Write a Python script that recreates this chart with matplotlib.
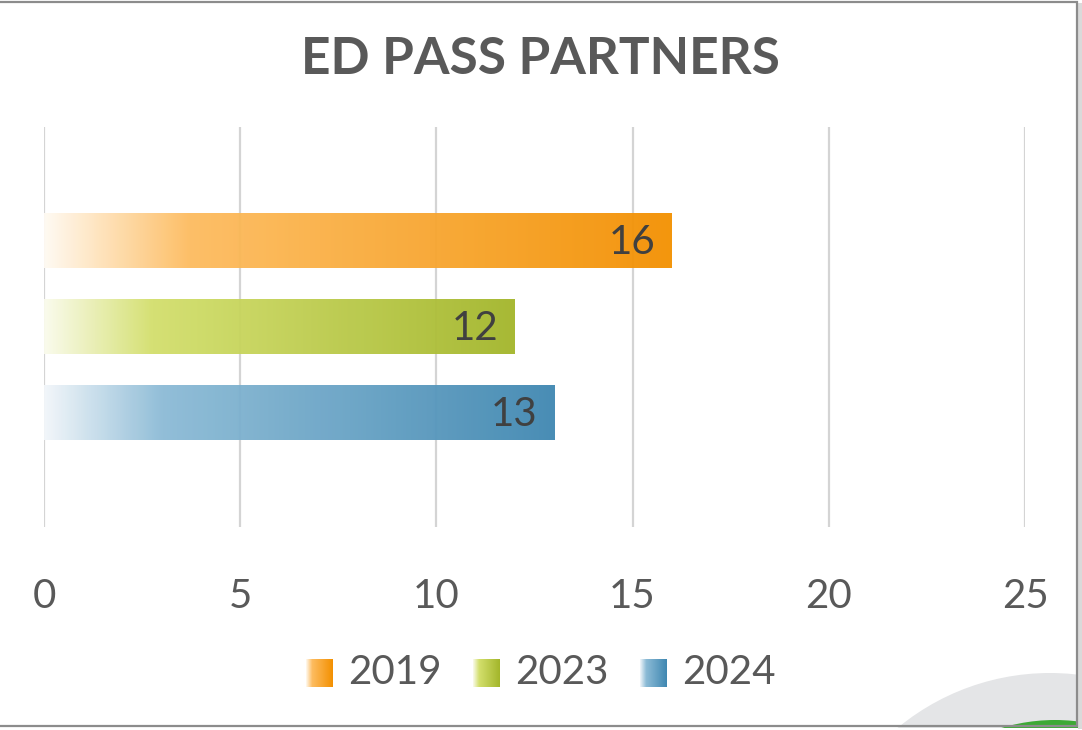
import matplotlib.pyplot as plt
import numpy as np
from matplotlib.colors import LinearSegmentedColormap
from matplotlib.patches import Ellipse, Rectangle

# data
years = ['2019', '2023', '2024']
partners = [16, 12, 13]
# gradient stops per series: left (almost white), ~23% of the bar, right end
grad_colors = [
    ['#FFFAF2', '#FDBC60', '#F39000'],
    ['#FAFBEC', '#D3DF6C', '#A3B62A'],
    ['#F2F6FA', '#8CBBD6', '#3F87B1'],
]
xticks = [0, 5, 10, 15, 20, 25]

plt.rcParams['font.family'] = ['Lato', 'DejaVu Sans']

fig = plt.figure(figsize=(10.82, 7.3), dpi=100)
W, H = 1082, 730


def circ(cx, cy, r, color, z):
    # circle given in pixel coords (y from top) placed in figure fractions
    return Ellipse((cx / W, 1 - cy / H), 2 * r / W, 2 * r / H, transform=fig.transFigure,
                   facecolor=color, edgecolor='none', zorder=z)


# background decoration bottom right
fig.patches.append(circ(1050, 912, 239, '#E4E5E7', 0))
fig.patches.append(circ(1055, 905, 185, '#3DAA35', 0.5))
# white strip below the frame, then the frame
fig.patches.append(Rectangle((0, 0), 1, 2 / H, transform=fig.transFigure,
                             facecolor='white', edgecolor='none', zorder=1))
fig.patches.append(Rectangle((-0.01, 1 - 726 / H), 1077 / W + 0.01, 724 / H,
                             transform=fig.transFigure, facecolor='none',
                             edgecolor='#8C8C8C', lw=1.6, zorder=2))
fig.patches.append(Rectangle((1078 / W, 1 - 729 / H), 4 / W, 726 / H, transform=fig.transFigure,
                             facecolor='#DADADA', edgecolor='none', zorder=1))

ax = fig.add_axes([44 / W, 1 - 527 / H, (1025 - 44) / W, 400 / H])
ax.patch.set_alpha(0)

ypos = [2, 1, 0]
bar_h = 0.63
grad = np.linspace(0, 1, 256).reshape(1, -1)
cmaps = []
for i, (yr, v) in enumerate(zip(years, partners)):
    c = grad_colors[i]
    cmap = LinearSegmentedColormap.from_list('g' + yr, [(0, c[0]), (0.23, c[1]), (1, c[2])])
    cmaps.append(cmap)
    y = ypos[i]
    ax.imshow(grad, extent=[0, v, y - bar_h / 2, y + bar_h / 2], aspect='auto',
              cmap=cmap, zorder=2, alpha=0.95, interpolation='bilinear')
    ax.text(v - 0.42, y - 0.02, str(v), ha='right', va='center', fontsize=29,
            color='#404040', zorder=3)

ax.set_xlim(0, 25)
ax.set_ylim(-1.33, 3.33)
ax.set_xticks(xticks)
ax.set_yticks([])
ax.grid(axis='x', color='#D4D4D4', lw=1.6, zorder=0)
ax.set_axisbelow(True)
for s in ax.spines.values():
    s.set_visible(False)
ax.tick_params(axis='x', length=0, pad=37, labelsize=29, labelcolor='#595959')

fig.text(540 / W, 1 - 60 / H, 'ED PASS PARTNERS', ha='center', va='center',
         fontsize=37, fontweight='bold', color='#595959')

# legend with gradient swatches
sw_x = [306, 473, 640]
for i, yr in enumerate(years):
    sax = fig.add_axes([sw_x[i] / W, 1 - 687 / H, 27 / W, 28 / H])
    sax.imshow(grad, aspect='auto', cmap=cmaps[i], extent=[0, 1, 0, 1])
    sax.axis('off')
    fig.text((sw_x[i] + 42) / W, 1 - 673 / H, yr, ha='left', va='center',
             fontsize=29, color='#595959')

fig.savefig('out.png', dpi=100)
